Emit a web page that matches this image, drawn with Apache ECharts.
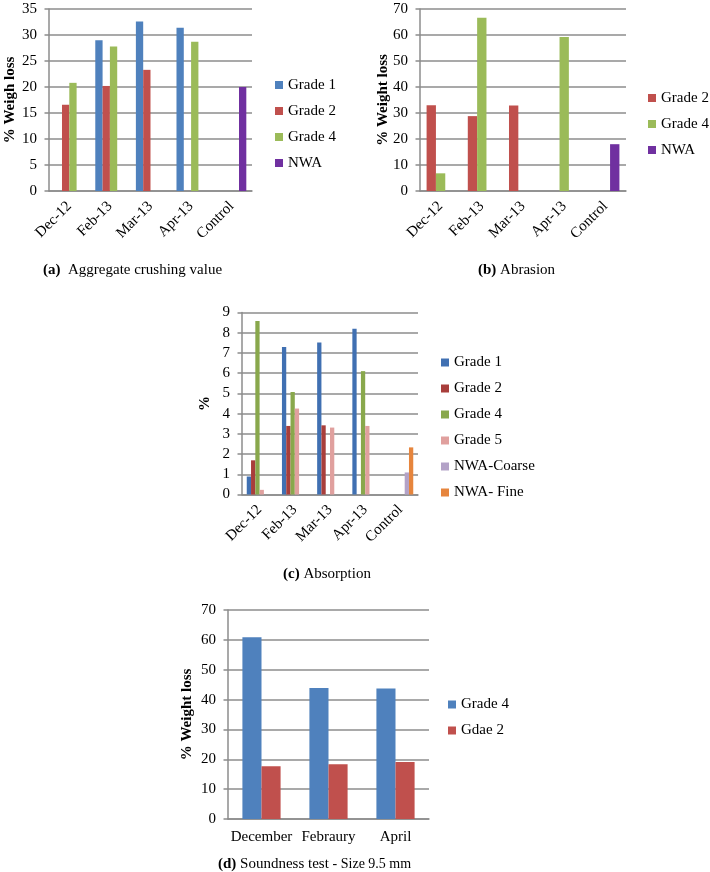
<!DOCTYPE html>
<html>
<head>
<meta charset="utf-8">
<script src="https://cdn.jsdelivr.net/npm/echarts@6/dist/echarts.min.js"></script>
<style>
html,body{margin:0;padding:0;background:#fff;}
#wrap{position:relative;width:710px;height:872px;}
.c{position:absolute;}
</style>
</head>
<body>
<div id="wrap">
  <div id="ca" class="c" style="left:0;top:0;width:355px;height:290px;"></div>
  <div id="cb" class="c" style="left:355px;top:0;width:355px;height:290px;"></div>
  <div id="cc" class="c" style="left:0;top:290px;width:710px;height:300px;"></div>
  <div id="cd" class="c" style="left:0;top:590px;width:710px;height:282px;"></div>
</div>
<script>
// ---- Data ----
const monthCats = ['Dec-12', 'Feb-13', 'Mar-13', 'Apr-13', 'Control'];

// (a) Aggregate crushing value
const aNames = ['Grade 1', 'Grade 2', 'Grade 4', 'NWA'];
const aGrade1 = [null, 29.0, 32.6, 31.4, null];
const aGrade2 = [16.6, 20.2, 23.3, null, null];
const aGrade4 = [20.8, 27.8, null, 28.7, null];
const aNWA = [null, null, null, null, 20.0];
const aTicks = [0, 35, 5];

// (b) Abrasion
const bNames = ['Grade 2', 'Grade 4', 'NWA'];
const bGrade2 = [33.0, 28.8, 32.9, null, null];
const bGrade4 = [6.8, 66.6, null, 59.2, null];
const bNWA = [null, null, null, null, 18.0];
const bTicks = [0, 70, 10];

// (c) Absorption
const cNames = ['Grade 1', 'Grade 2', 'Grade 4', 'Grade 5', 'NWA-Coarse', 'NWA- Fine'];
const cGrade1 = [0.89, 7.29, 7.52, 8.2, null];
const cGrade2 = [1.69, 3.39, 3.42, null, null];
const cGrade4 = [8.58, 5.07, null, 6.1, null];
const cGrade5 = [0.23, 4.25, 3.31, 3.39, null];
const cNWACoarse = [null, null, null, null, 1.09];
const cNWAFine = [null, null, null, null, 2.33];
const cTicks = [0, 9, 1];

// (d) Soundness test
const dCats = ['December', 'Febraury', 'April'];
const dNames = ['Grade 4', 'Gdae 2'];
const dGrade4 = [60.9, 43.9, 43.7];
const dGdae2 = [17.7, 18.3, 19.1];
const dTicks = [0, 70, 10];

// ---- Styling ----
const FONT = '"Liberation Serif", "Times New Roman", serif';
const GRID_COLOR = '#8c8c8c';

function makeOption(cfg) {
  const legText = { fontFamily: FONT, fontSize: 15, color: '#000', lineHeight: 16 };
  return {
    animation: false,
    textStyle: { fontFamily: FONT, color: '#000' },
    title: {
      text: cfg.caption,
      left: cfg.capLeft, top: cfg.capTop, padding: 0,
      textStyle: {
        fontFamily: FONT, fontSize: 15, fontWeight: 'normal', color: '#000',
        rich: {
          b: { fontFamily: FONT, fontSize: 15, fontWeight: 'bold', color: '#000' },
          s: { fontFamily: FONT, fontSize: 14, color: '#000' }
        }
      }
    },
    legend: {
      orient: 'vertical',
      left: cfg.legLeft, top: cfg.legTop,
      padding: 0,
      icon: 'rect', itemWidth: 8, itemHeight: 8,
      itemGap: 10,
      selectedMode: false,
      textStyle: legText,
      data: cfg.names.map(n => ({ name: n, textStyle: legText }))
    },
    grid: {
      left: cfg.grid[0], top: cfg.grid[1], width: cfg.grid[2], height: cfg.grid[3],
      containLabel: false, outerBoundsMode: 'none'
    },
    xAxis: {
      type: 'category',
      data: cfg.cats,
      axisLine: { lineStyle: { color: GRID_COLOR, width: 1.5 } },
      axisTick: { show: false },
      axisLabel: {
        fontFamily: FONT, fontSize: 15, color: '#000',
        rotate: cfg.rotate, margin: cfg.xMargin, interval: 0
      }
    },
    yAxis: {
      type: 'value',
      min: cfg.ticks[0], max: cfg.ticks[1], interval: cfg.ticks[2],
      name: cfg.yName,
      nameLocation: 'middle',
      nameGap: cfg.nameGap,
      nameMoveOverlap: false,
      nameTextStyle: { fontFamily: FONT, fontSize: 15, fontWeight: 'bold', color: '#000' },
      axisLine: { show: true, lineStyle: { color: GRID_COLOR, width: 1.5 } },
      axisTick: { show: true, length: 4.5, lineStyle: { color: GRID_COLOR, width: 1.5 } },
      axisLabel: { fontFamily: FONT, fontSize: 15, color: '#000', margin: 12 },
      splitLine: { lineStyle: { color: GRID_COLOR, width: 1.5 } }
    },
    series: cfg.series.map((d, i) => ({
      type: 'bar',
      name: cfg.names[i],
      data: d,
      barGap: '0%',
      barCategoryGap: cfg.catGap,
      itemStyle: { color: cfg.colors[i] }
    }))
  };
}

const STD = ['#4F81BD', '#C0504D', '#9BBB59', '#7030A0'];

const optA = makeOption({
  caption: '{b|(a)}  Aggregate crushing value', capLeft: 43, capTop: 263,
  legLeft: 275, legTop: 77, names: aNames,
  grid: [49, 9, 203, 182], cats: monthCats, rotate: 45, xMargin: 13,
  ticks: aTicks, yName: '% Weigh loss', nameGap: 31,
  series: [aGrade1, aGrade2, aGrade4, aNWA], catGap: '28%',
  colors: STD
});

const optB = makeOption({
  caption: '{b|(b)} Abrasion', capLeft: 123, capTop: 263,
  legLeft: 293, legTop: 90, names: bNames,
  grid: [65, 9, 206, 182], cats: monthCats, rotate: 45, xMargin: 13,
  ticks: bTicks, yName: '% Weight loss', nameGap: 29,
  series: [bGrade2, bGrade4, bNWA], catGap: '32%',
  colors: ['#C0504D', '#9BBB59', '#7030A0']
});

const optC = makeOption({
  caption: '{b|(c)} Absorption', capLeft: 283, capTop: 277,
  legLeft: 441, legTop: 64.5, names: cNames,
  grid: [242, 22.5, 176, 182], cats: monthCats, rotate: 45, xMargin: 13,
  ticks: cTicks, yName: '%', nameGap: 29,
  series: [cGrade1, cGrade2, cGrade4, cGrade5, cNWACoarse, cNWAFine], catGap: '27%',
  colors: ['#4070B2', '#A83E3B', '#89A84C', '#E0A09E', '#B3A2C7', '#E6853D']
});

const optD = makeOption({
  caption: '{b|(d)} Soundness test {s|- Size 9.5 mm}', capLeft: 218, capTop: 267,
  legLeft: 448, legTop: 106.5, names: dNames,
  grid: [228, 20, 201, 209], cats: dCats, rotate: 0, xMargin: 11,
  ticks: dTicks, yName: '% Weight loss', nameGap: 33,
  series: [dGrade4, dGdae2], catGap: '43%',
  colors: ['#4F81BD', '#C0504D']
});

echarts.init(document.getElementById('ca'), null, { renderer: 'canvas' }).setOption(optA);
echarts.init(document.getElementById('cb'), null, { renderer: 'canvas' }).setOption(optB);
echarts.init(document.getElementById('cc'), null, { renderer: 'canvas' }).setOption(optC);
echarts.init(document.getElementById('cd'), null, { renderer: 'canvas' }).setOption(optD);
</script>
</body>
</html>
